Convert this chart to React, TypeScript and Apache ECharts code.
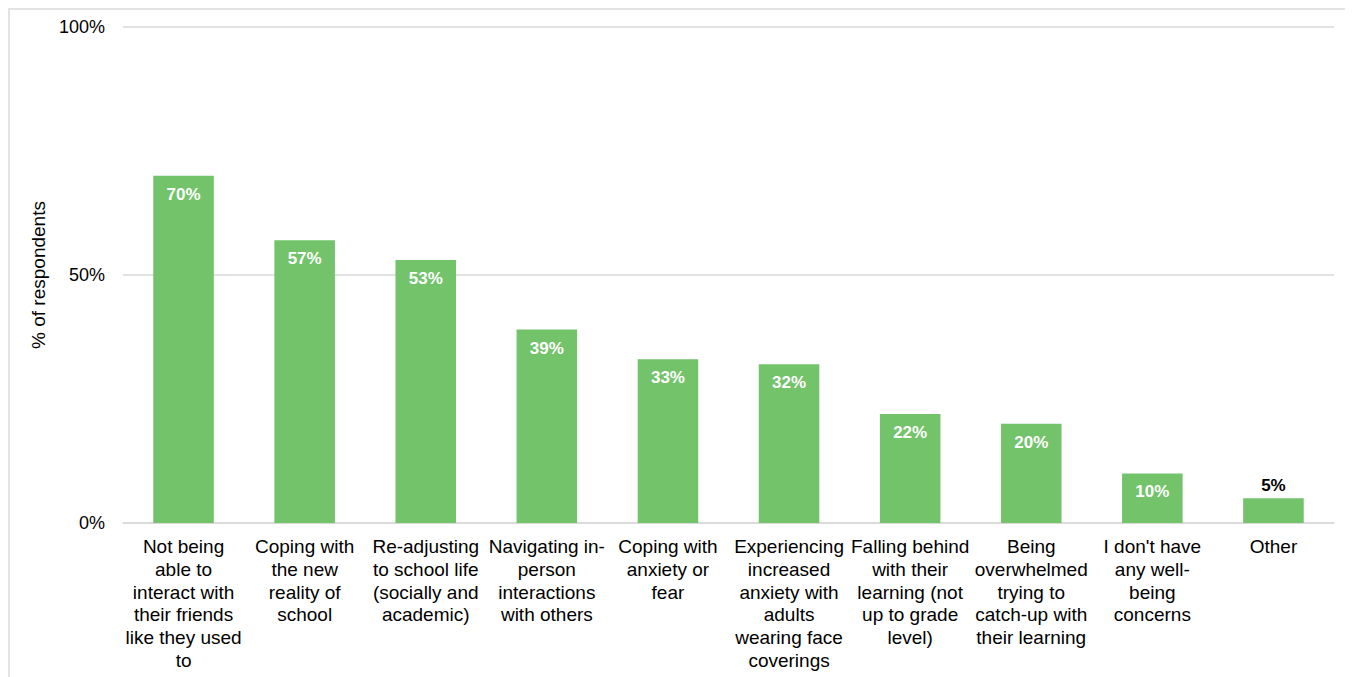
import React, { useEffect, useRef } from "react";
import * as echarts from "echarts";

const categories = [
  "Not being\nable to\ninteract with\ntheir friends\nlike they used\nto",
  "Coping with\nthe new\nreality of\nschool",
  "Re-adjusting\nto school life\n(socially and\nacademic)",
  "Navigating in-\nperson\ninteractions\nwith others",
  "Coping with\nanxiety or\nfear",
  "Experiencing\nincreased\nanxiety with\nadults\nwearing face\ncoverings",
  "Falling behind\nwith their\nlearning (not\nup to grade\nlevel)",
  "Being\noverwhelmed\ntrying to\ncatch-up with\ntheir learning",
  "I don't have\nany well-\nbeing\nconcerns",
  "Other",
];
const values = [70, 57, 53, 39, 33, 32, 22, 20, 10, 5];
const yTicks = [0, 50, 100];
const yAxisName = "% of respondents";

const FONT = "Liberation Sans, Arial, sans-serif";

export default function App() {
  const ref = useRef<HTMLDivElement>(null);
  useEffect(() => {
    if (!ref.current) return;
    const chart = echarts.init(ref.current, null, { renderer: "svg" });
    const data = values.map((v, i) => {
      const outside = i === values.length - 1;
      return {
        value: v,
        label: outside
          ? { position: "top", color: "#000", distance: 4 }
          : { position: "insideTop", color: "#fff", distance: 10 },
      };
    });
    chart.setOption({
      animation: false,
      grid: { left: 113, right: 15, top: 17, bottom: 173, containLabel: false },
      xAxis: {
        type: "category",
        data: categories,
        axisLine: { show: true, lineStyle: { color: "#d9d9d9", width: 1.5 } },
        axisTick: { show: false },
        axisLabel: {
          interval: 0,
          color: "#000",
          fontFamily: FONT,
          fontSize: 19,
          lineHeight: 22.8,
          margin: 12,
          align: "center",
        },
      },
      yAxis: {
        type: "value",
        min: 0,
        max: 100,
        interval: 50,
        name: yAxisName,
        nameLocation: "middle",
        nameGap: 73,
        nameRotate: 90,
        nameTextStyle: { color: "#000", fontFamily: FONT, fontSize: 19 },
        axisLine: { show: false },
        axisTick: { show: false },
        splitLine: { lineStyle: { color: "#d9d9d9", width: 1.5 } },
        axisLabel: {
          color: "#000",
          fontFamily: FONT,
          fontSize: 18,
          margin: 18,
          formatter: (v: number) => (yTicks.includes(v) ? v + "%" : ""),
        },
      },
      series: [
        {
          type: "bar",
          data,
          barWidth: "50%",
          itemStyle: { color: "#72C36A" },
          label: {
            show: true,
            fontFamily: FONT,
            fontSize: 17,
            fontWeight: "bold",
            formatter: (p: any) => p.value + "%",
          },
        },
      ],
    });
    return () => chart.dispose();
  }, []);
  return (
    <div
      style={{
        width: 1343,
        height: 690,
        border: "2px solid #e3e3e3",
        boxSizing: "border-box",
        background: "#fff",
      }}
    >
      <div ref={ref} style={{ width: 1339, height: 686 }} />
    </div>
  );
}
